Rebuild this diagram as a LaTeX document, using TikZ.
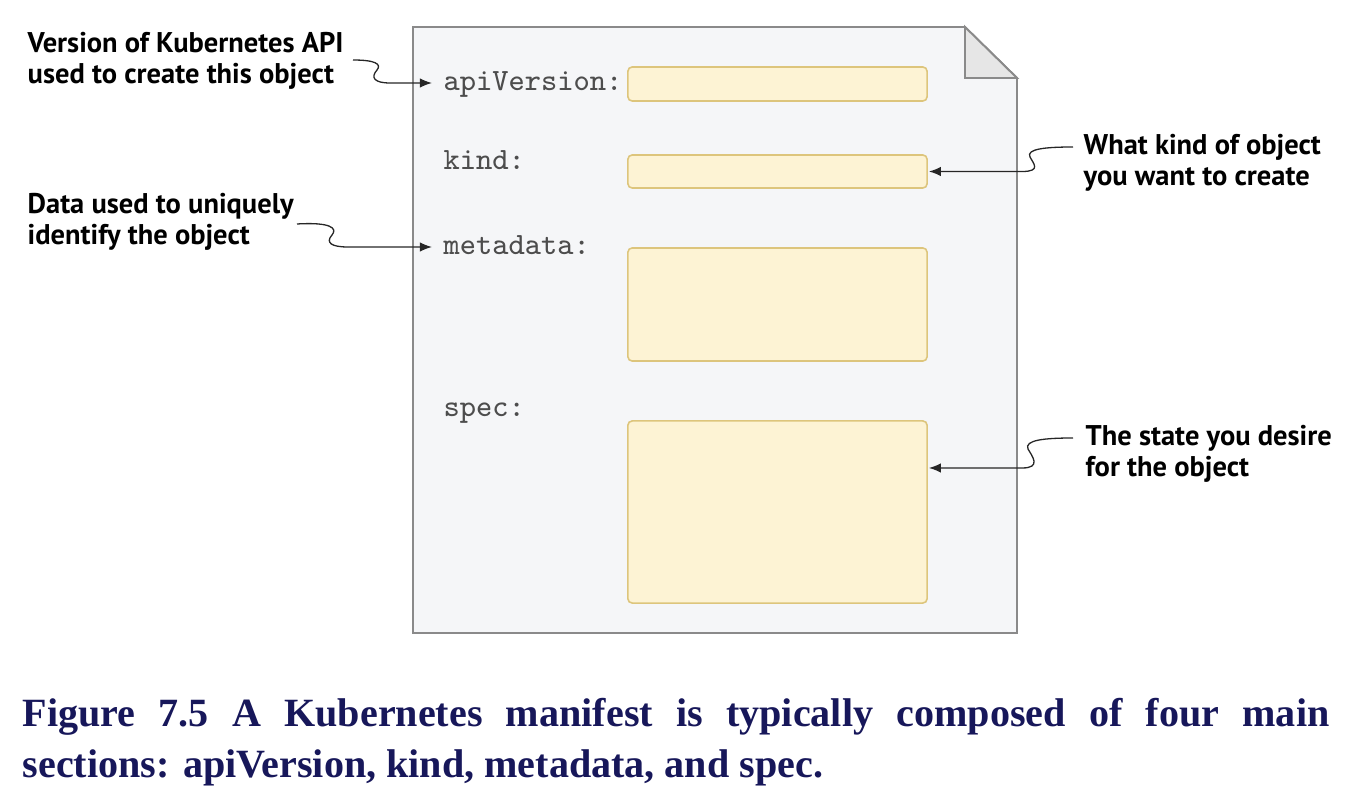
\documentclass[tikz,border=0pt]{standalone}
\usepackage{fontspec}
\setmainfont{Liberation Serif}
\newfontfamily\notefont{PT Sans}
\usetikzlibrary{arrows.meta}
\definecolor{pagefill}{HTML}{F5F6F8}
\definecolor{pageline}{HTML}{8A8A8A}
\definecolor{foldfill}{HTML}{E6E6E6}
\definecolor{fieldfill}{HTML}{FDF3D4}
\definecolor{fieldline}{HTML}{DDC57C}
\definecolor{keygray}{HTML}{4D4D4D}
\definecolor{linkgray}{HTML}{262626}
\definecolor{captionblue}{HTML}{17175A}
\begin{document}
\begin{tikzpicture}[x=0.01cm, y=-0.01cm,
    page/.style={draw=pageline, fill=pagefill, line width=0.55pt, line join=miter},
    fold/.style={draw=pageline, fill=foldfill, line width=0.55pt},
    field/.style={draw=fieldline, fill=fieldfill, line width=0.45pt, rounded corners=1.2pt, minimum width=2.99cm, inner sep=0pt},
    key/.style={anchor=west, inner xsep=1mm, inner ysep=0pt, text height=6.2pt, text depth=1.8pt, text=keygray, font=\ttfamily\fontsize{8.8}{10}\selectfont},
    note/.style={anchor=west, align=left, inner sep=0pt, font=\notefont\bfseries\fontsize{8.1}{8.8}\selectfont},
    link/.style={-{Latex[length=1.2mm, width=0.95mm]}, draw=linkgray, line width=0.37pt, shorten >=0.3pt},
    caption/.style={anchor=north west, inner sep=0pt, text width=13.06cm, align=justify, text=captionblue, font=\bfseries\fontsize{11.4}{14.5}\selectfont}
]
    \useasboundingbox (0,0) rectangle (1350,794);

    % manifest sheet
    \draw[page] (413,27) -- (965,27) -- (1017,78) -- (1017,633) -- (413,633) -- cycle;
    \draw[fold] (965,27) -- (965,78) -- (1017,78) -- cycle;

    % fields
    \node[field, minimum height=0.34cm] (apiField) at (777.5,84) {};
    \node[field, minimum height=0.33cm] (kindField) at (777.5,171.5) {};
    \node[field, minimum height=1.13cm] (metaField) at (777.5,304.5) {};
    \node[field, minimum height=1.82cm] (specField) at (777.5,512) {};

    \node[key] (apiKey) at (433,83) {apiVersion:};
    \node[key] (kindKey) at (433,162) {kind:};
    \node[key] (metaKey) at (433,247) {metadata:};
    \node[key] (specKey) at (433,409) {spec:};

    % notes
    \node[note] (verNote) at (27,61) {Version of Kubernetes API\\used to create this object};
    \node[note] (dataNote) at (27,221.5) {Data used to uniquely\\identify the object};
    \node[note] (kindNote) at (1083,162.5) {What kind of object\\you want to create};
    \node[note] (specNote) at (1085,453.5) {The state you desire\\for the object};

    \coordinate (verTail) at (353,60);
    \coordinate (dataTail) at (297,224);
    \coordinate (kindTail) at (1073,147);
    \coordinate (specTail) at (1073,438);

    \draw[link] (verTail) .. controls (375,60) and (382,64) .. (377,70)
        .. controls (370,78) and (375,83) .. (390,83) -- (apiKey.west);
    \draw[link] (dataTail) .. controls (330,222) and (338,228) .. (332,235)
        .. controls (325,243) and (332,247) .. (348,247) -- (metaKey.west);
    \draw[link] (kindTail) .. controls (1045,147) and (1026,149) .. (1030,157)
        .. controls (1033,163) and (1042,171.5) .. (1022,171.5) -- (kindField.east);
    \draw[link] (specTail) .. controls (1045,438) and (1024,440) .. (1028,449)
        .. controls (1032,456) and (1042,468) .. (1022,468) -- ([yshift=0.44cm]specField.east);

    \node[caption] (figCaption) at (22,698) {Figure 7.5 A Kubernetes manifest is typically composed of four main\linebreak sections: apiVersion, kind, metadata, and spec.};
\end{tikzpicture}
\end{document}
